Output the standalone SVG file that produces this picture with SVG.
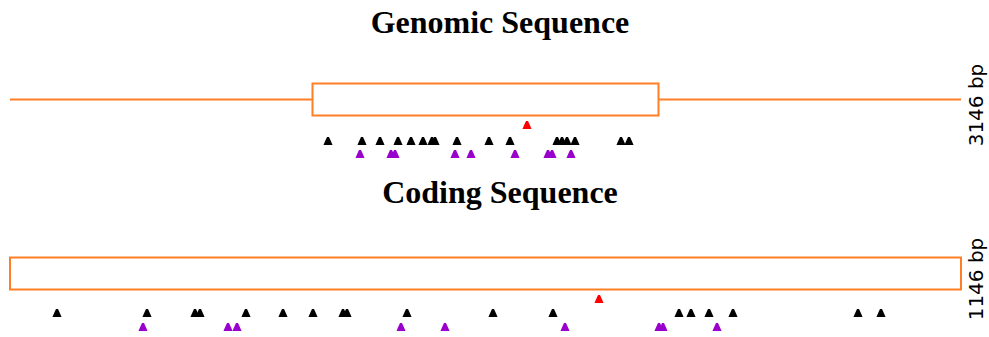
<svg xmlns="http://www.w3.org/2000/svg" xmlns:xlink="http://www.w3.org/1999/xlink" width="989" height="337" viewBox="0 0 989 337">
<style>
.title{font-family:"Liberation Serif","Times New Roman",serif;font-weight:bold;font-size:32px;fill:#000;text-anchor:middle}
.len{font-family:"DejaVu Sans",sans-serif;font-size:20px;fill:#000;text-anchor:middle}
.seq{fill:#fff;stroke:#ff7f27;stroke-width:2}
.line{stroke:#ff7f27;stroke-width:2;fill:none}
.k{fill:#000}
.p{fill:#9900cc}
.r{fill:#ff0000}
</style>
<defs>
<path id="m" d="M-1,0 L1,0 L3.5,5.5 L4.5,8 L-4.5,8 L-3.5,5.5 Z"/>
</defs>
<rect width="989" height="337" fill="#fff"/>
<g id="genomic">
<text class="title" x="500" y="33">Genomic Sequence</text>
<line class="line" x1="10" y1="99.5" x2="961" y2="99.5"/>
<rect class="seq" x="312.5" y="83.5" width="346" height="32"/>
<text class="len" transform="translate(983,105) rotate(-90)">3146 bp</text>
<g class="k">
<use xlink:href="#m" x="328" y="137"/><use xlink:href="#m" x="362" y="137"/><use xlink:href="#m" x="380" y="137"/><use xlink:href="#m" x="398" y="137"/><use xlink:href="#m" x="411" y="137"/><use xlink:href="#m" x="423" y="137"/><use xlink:href="#m" x="432" y="137"/><use xlink:href="#m" x="435" y="137"/><use xlink:href="#m" x="457" y="137"/><use xlink:href="#m" x="489" y="137"/><use xlink:href="#m" x="510" y="137"/><use xlink:href="#m" x="557" y="137"/><use xlink:href="#m" x="562" y="137"/><use xlink:href="#m" x="567" y="137"/><use xlink:href="#m" x="575" y="137"/><use xlink:href="#m" x="621" y="137"/><use xlink:href="#m" x="629" y="137"/>
</g>
<g class="p">
<use xlink:href="#m" x="360" y="150"/><use xlink:href="#m" x="391" y="150"/><use xlink:href="#m" x="395" y="150"/><use xlink:href="#m" x="455" y="150"/><use xlink:href="#m" x="471" y="150"/><use xlink:href="#m" x="515" y="150"/><use xlink:href="#m" x="548" y="150"/><use xlink:href="#m" x="552" y="150"/><use xlink:href="#m" x="571" y="150"/>
</g>
<use class="r" xlink:href="#m" x="527" y="121"/>
</g>
<g id="coding">
<text class="title" x="500" y="203">Coding Sequence</text>
<rect class="seq" x="10" y="257.5" width="951" height="32"/>
<text class="len" transform="translate(983,279) rotate(-90)">1146 bp</text>
<g class="k">
<use xlink:href="#m" x="57" y="309"/><use xlink:href="#m" x="147" y="309"/><use xlink:href="#m" x="195" y="309"/><use xlink:href="#m" x="200" y="309"/><use xlink:href="#m" x="246" y="309"/><use xlink:href="#m" x="283" y="309"/><use xlink:href="#m" x="313" y="309"/><use xlink:href="#m" x="343" y="309"/><use xlink:href="#m" x="347" y="309"/><use xlink:href="#m" x="407" y="309"/><use xlink:href="#m" x="493" y="309"/><use xlink:href="#m" x="553" y="309"/><use xlink:href="#m" x="679" y="309"/><use xlink:href="#m" x="691" y="309"/><use xlink:href="#m" x="709" y="309"/><use xlink:href="#m" x="733" y="309"/><use xlink:href="#m" x="858" y="309"/><use xlink:href="#m" x="881" y="309"/>
</g>
<g class="p">
<use xlink:href="#m" x="143" y="323"/><use xlink:href="#m" x="228" y="323"/><use xlink:href="#m" x="237" y="323"/><use xlink:href="#m" x="401" y="323"/><use xlink:href="#m" x="445" y="323"/><use xlink:href="#m" x="565" y="323"/><use xlink:href="#m" x="659" y="323"/><use xlink:href="#m" x="663" y="323"/><use xlink:href="#m" x="717" y="323"/>
</g>
<use class="r" xlink:href="#m" x="599" y="295"/>
</g>
</svg>
